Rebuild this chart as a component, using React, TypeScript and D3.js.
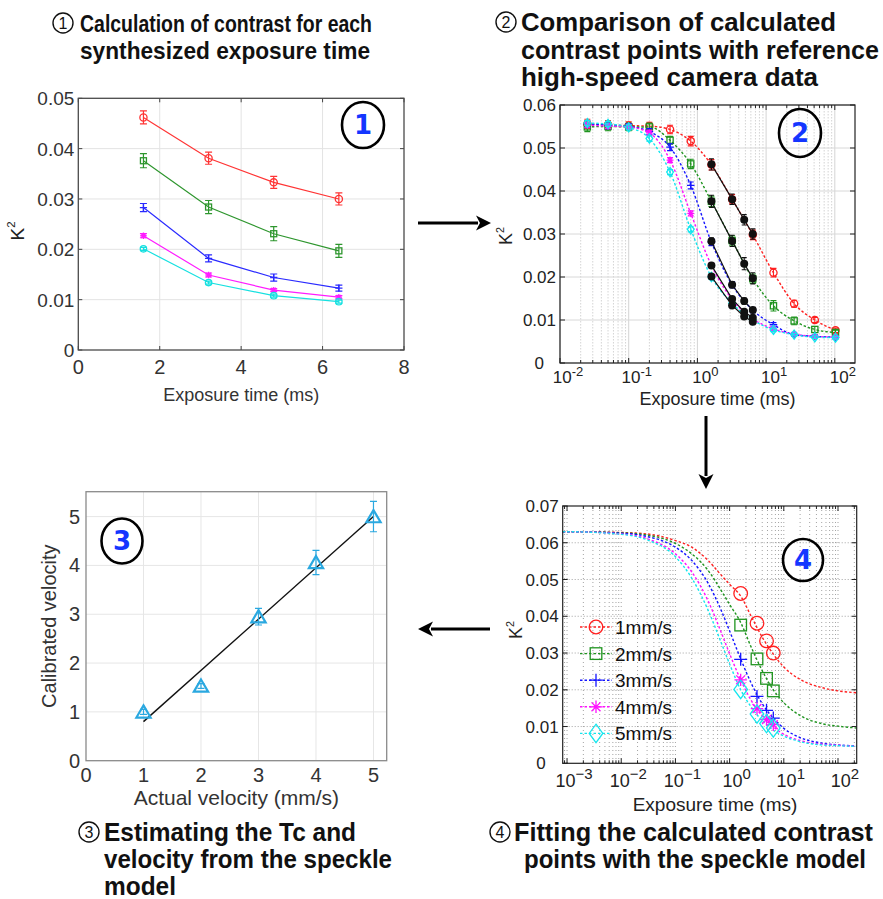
import React from 'react';
import * as d3 from 'd3';

const FONT = "'Liberation Sans', Arial, Helvetica, sans-serif";
const TITLE_FONT = "'Liberation Sans Narrow', 'Liberation Sans', Arial, sans-serif";
const BADGE_FONT = "'DejaVu Sans', Verdana, sans-serif";

// ---------- Panel 1: contrast for each synthesized exposure time ----------
const synthExposure = [1.6, 3.2, 4.8, 6.4];
const k2Speed1 = [0.0462, 0.0381, 0.0333, 0.03];
const k2Speed2 = [0.0376, 0.0284, 0.0231, 0.0197];
const k2Speed3 = [0.0283, 0.0182, 0.0144, 0.0123];
const k2Speed4 = [0.0227, 0.0149, 0.0119, 0.0105];
const k2Speed5 = [0.0201, 0.0134, 0.0108, 0.0096];
const errSpeed1 = [0.0013, 0.0012, 0.0012, 0.0012];
const errSpeed2 = [0.0014, 0.0013, 0.0014, 0.0013];
const errSpeed3 = [0.0008, 0.0007, 0.0007, 0.0006];
const errSpeed4 = [0.0004, 0.0004, 0.0003, 0.0003];
const errSpeed5 = [0.0003, 0.0003, 0.0003, 0.0003];
const p1XTicks = [0, 2, 4, 6, 8];
const p1YTicks = [0, 0.01, 0.02, 0.03, 0.04, 0.05];

// ---------- Panel 2: high-speed camera reference contrast ----------
const hsExposure = [0.025, 0.05, 0.1, 0.2, 0.4, 0.8, 1.6, 3.2, 6.4, 12.8, 25.6, 51.2, 102.4];
const hsSpeed1 = [0.0556, 0.0554, 0.0552, 0.0551, 0.0543, 0.0516, 0.0461, 0.0381, 0.0298, 0.021, 0.0138, 0.01, 0.0076];
const hsSpeed2 = [0.0549, 0.055, 0.0549, 0.0549, 0.0518, 0.0463, 0.0376, 0.0285, 0.0196, 0.0133, 0.0098, 0.0078, 0.0071];
const hsSpeed3 = [0.0556, 0.0553, 0.055, 0.0538, 0.0502, 0.0413, 0.0281, 0.0182, 0.0123, 0.0089, 0.0066, 0.0062, 0.006];
const hsSpeed4 = [0.0553, 0.0551, 0.0549, 0.0535, 0.0472, 0.0348, 0.0227, 0.0148, 0.0103, 0.0079, 0.0067, 0.0062, 0.006];
const hsSpeed5 = [0.0558, 0.0556, 0.0548, 0.0522, 0.0444, 0.0311, 0.02, 0.0139, 0.01, 0.0077, 0.0066, 0.006, 0.0059];
const hsErr1 = [0.0011, 0.001, 0.0009, 0.0009, 0.001, 0.0011, 0.0012, 0.0011, 0.0011, 0.001, 0.0008, 0.0006, 0.0005];
const hsErr2 = [0.0011, 0.001, 0.0009, 0.0009, 0.0009, 0.0011, 0.0012, 0.0011, 0.0011, 0.0012, 0.0009, 0.0007, 0.0005];
const hsErr3 = [0.0008, 0.0008, 0.0007, 0.0007, 0.0008, 0.0008, 0.0008, 0.0007, 0.0006, 0.0005, 0.0004, 0.0004, 0.0004];
const hsErr4 = [0.0006, 0.0006, 0.0006, 0.0006, 0.0006, 0.0006, 0.0005, 0.0004, 0.0004, 0.0004, 0.0003, 0.0003, 0.0003];
const hsErr5 = [0.0006, 0.0006, 0.0006, 0.0006, 0.0006, 0.0006, 0.0005, 0.0004, 0.0004, 0.0004, 0.0003, 0.0003, 0.0003];
const p2YTicks = [0, 0.01, 0.02, 0.03, 0.04, 0.05, 0.06];
const p2Decades = [-2, -1, 0, 1, 2];

// ---------- Panel 3: calibrated vs actual velocity ----------
const actualVelocity = [1, 2, 3, 4, 5];
const calibratedVelocity = [1.0, 1.53, 2.95, 4.06, 5.0];
const calibratedErr = [0.05, 0.05, 0.17, 0.25, 0.31];
const fitVelocityX = [1, 5];
const fitVelocityY = [0.8, 5.0];
const p3XTicks = [0, 1, 2, 3, 4, 5];
const p3YTicks = [0, 1, 2, 3, 4, 5];

// ---------- Panel 4: speckle-model fits ----------
const fitExposure = [0.00083, 0.001, 0.01, 0.03, 0.1, 0.2, 0.4, 0.7, 1, 1.6, 2.5, 4, 6.4, 10, 20, 50, 100, 221];
const fitSpeed1 = [0.063, 0.063, 0.0628, 0.0624, 0.0606, 0.0588, 0.0552, 0.0512, 0.0487, 0.0455, 0.04, 0.0343, 0.0297, 0.0262, 0.0228, 0.0206, 0.0197, 0.0192];
const fitSpeed2 = [0.063, 0.063, 0.0627, 0.0621, 0.0598, 0.057, 0.0525, 0.047, 0.0432, 0.0383, 0.0316, 0.0252, 0.02, 0.0165, 0.013, 0.0108, 0.0101, 0.0096];
const fitSpeed3 = [0.063, 0.063, 0.0626, 0.0617, 0.0588, 0.0552, 0.049, 0.0416, 0.036, 0.0284, 0.0218, 0.0162, 0.0123, 0.0095, 0.007, 0.0055, 0.005, 0.0047];
const fitSpeed4 = [0.063, 0.063, 0.0624, 0.0611, 0.057, 0.0521, 0.0442, 0.0356, 0.0298, 0.0227, 0.0171, 0.0128, 0.0099, 0.0079, 0.0062, 0.0052, 0.0049, 0.0046];
const fitSpeed5 = [0.063, 0.063, 0.0623, 0.0608, 0.0562, 0.0504, 0.0417, 0.0328, 0.027, 0.02, 0.0153, 0.0116, 0.009, 0.0074, 0.0059, 0.005, 0.0048, 0.0046];
const legendLabels = ['1mm/s', '2mm/s', '3mm/s', '4mm/s', '5mm/s'];
const p4YTicks = [0, 0.01, 0.02, 0.03, 0.04, 0.05, 0.06, 0.07];
const p4Decades = [-3, -2, -1, 0, 1, 2];

// ---------- captions ----------
const caption1 = ['Calculation of contrast for each', 'synthesized exposure time'];
const caption2 = ['Comparison of calculated', 'contrast points with reference', 'high-speed camera data'];
const caption3 = ['Estimating the Tc and', 'velocity from the speckle', 'model'];
const caption4 = ['Fitting the calculated contrast', 'points with the speckle model'];

type Shape = 'o' | 's' | '+' | '*' | 'd' | '^' | 'dot';

function Marker({ shape, x, y, s, color, sw = 1 }: { shape: Shape; x: number; y: number; s: number; color: string; sw?: number }) {
  switch (shape) {
    case 'o':
      return <circle cx={x} cy={y} r={s} fill="none" stroke={color} strokeWidth={sw} />;
    case 's':
      return <rect x={x - s} y={y - s} width={2 * s} height={2 * s} fill="none" stroke={color} strokeWidth={sw} />;
    case '+':
      return <path d={`M${x - s},${y}H${x + s}M${x},${y - s}V${y + s}`} stroke={color} strokeWidth={sw} />;
    case '*': {
      const d = s * 0.72;
      return (
        <path
          d={`M${x - s},${y}H${x + s}M${x},${y - s}V${y + s}M${x - d},${y - d}L${x + d},${y + d}M${x - d},${y + d}L${x + d},${y - d}`}
          stroke={color}
          strokeWidth={sw}
        />
      );
    }
    case 'd':
      return <path d={`M${x},${y - s * 1.35}L${x + s},${y}L${x},${y + s * 1.35}L${x - s},${y}Z`} fill="none" stroke={color} strokeWidth={sw} />;
    case '^':
      return <path d={`M${x},${y - s}L${x + s * 0.95},${y + s * 0.62}L${x - s * 0.95},${y + s * 0.62}Z`} fill="none" stroke={color} strokeWidth={sw} />;
    case 'dot':
      return <circle cx={x} cy={y} r={s} fill={color} />;
  }
  return null;
}

function ErrorBar({ x, y0, y1, cap, color, sw = 1 }: { x: number; y0: number; y1: number; cap: number; color: string; sw?: number }) {
  return <path d={`M${x - cap},${y0}H${x + cap}M${x},${y0}V${y1}M${x - cap},${y1}H${x + cap}`} stroke={color} strokeWidth={sw} fill="none" />;
}

function PowLabel({ x, y, exp, size, supSize, minus, rise }: { x: number; y: number; exp: number; size: number; supSize: number; minus: string; rise: number }) {
  const e = exp < 0 ? `${minus}${Math.abs(exp)}` : `${exp}`;
  return (
    <text x={x} y={y} textAnchor="middle" fontFamily={FONT} fontSize={size} fill="#222">
      10
      <tspan dy={-rise} fontSize={supSize}>
        {e}
      </tspan>
    </text>
  );
}

function K2Label({ x, y, size }: { x: number; y: number; size: number }) {
  return (
    <text transform={`translate(${x},${y}) rotate(-90)`} textAnchor="middle" fontFamily={FONT} fontSize={size} fill="#222">
      K
      <tspan dy={-size * 0.45} fontSize={size * 0.6}>
        2
      </tspan>
    </text>
  );
}

function Badge({ cx, cy, rx, ry, label }: { cx: number; cy: number; rx: number; ry: number; label: string }) {
  return (
    <g>
      <ellipse cx={cx} cy={cy} rx={rx} ry={ry} fill="none" stroke="#000" strokeWidth={2.6} />
      <text x={cx} y={cy + 9} textAnchor="middle" fontFamily={BADGE_FONT} fontWeight="bold" fontSize={26} fill="#1436ff">
        {label}
      </text>
    </g>
  );
}

function Caption({ cx, cy, num, lines, lineX, y0, dy, widths, size }: { cx: number; cy: number; num: string; lines: string[]; lineX: number[]; y0: number; dy: number; widths: number[]; size: number }) {
  return (
    <g>
      <circle cx={cx} cy={cy} r={10} fill="none" stroke="#111" strokeWidth={1.4} />
      <text x={cx} y={cy + 6} textAnchor="middle" fontFamily={FONT} fontSize={16} fill="#111">
        {num}
      </text>
      {lines.map((t, i) => (
        <text
          key={i}
          x={lineX[i]}
          y={y0 + i * dy}
          fontFamily={TITLE_FONT}
          fontWeight="bold"
          fontSize={size}
          fill="#111"
          textLength={widths[i]}
          lengthAdjust="spacingAndGlyphs"
        >
          {t}
        </text>
      ))}
    </g>
  );
}

function logTicks(lo: number, hi: number) {
  const out: { v: number; major: boolean }[] = [];
  for (let e = Math.floor(Math.log10(lo)); e <= Math.ceil(Math.log10(hi)); e++) {
    for (let k = 1; k <= 9; k++) {
      const v = k * Math.pow(10, e);
      if (v >= lo * 0.999 && v <= hi * 1.001) out.push({ v, major: k === 1 });
    }
  }
  return out;
}

function Panel1() {
  const p = { l: 78.3, r: 404, t: 98.3, b: 350 };
  const x = d3.scaleLinear().domain([0, 8]).range([p.l, p.r]);
  const y = d3.scaleLinear().domain([0, 0.05]).range([p.b, p.t]);
  const series = [
    { v: k2Speed1, e: errSpeed1, c: '#ff3434', shape: 'o' as Shape, s: 3.6 },
    { v: k2Speed2, e: errSpeed2, c: '#2e962e', shape: 's' as Shape, s: 3.0 },
    { v: k2Speed3, e: errSpeed3, c: '#2a2aff', shape: '+' as Shape, s: 3.6 },
    { v: k2Speed4, e: errSpeed4, c: '#ff1cff', shape: '*' as Shape, s: 3.2 },
    { v: k2Speed5, e: errSpeed5, c: '#16e0e0', shape: 'o' as Shape, s: 3.2 },
  ];
  const line = d3.line<number>().x((_, i) => x(synthExposure[i])).y((d) => y(d));
  return (
    <g>
      <rect x={p.l} y={p.t} width={p.r - p.l} height={p.b - p.t} fill="#fff" />
      {p1XTicks.slice(1, -1).map((t) => (
        <line key={'gx' + t} x1={x(t)} x2={x(t)} y1={p.t} y2={p.b} stroke="#e3e3e3" strokeWidth={1} />
      ))}
      {p1YTicks.slice(1, -1).map((t) => (
        <line key={'gy' + t} x1={p.l} x2={p.r} y1={y(t)} y2={y(t)} stroke="#e3e3e3" strokeWidth={1} />
      ))}
      {p1XTicks.map((t) => (
        <g key={'tx' + t}>
          <line x1={x(t)} x2={x(t)} y1={p.b} y2={p.b - 4} stroke="#444" />
          <line x1={x(t)} x2={x(t)} y1={p.t} y2={p.t + 4} stroke="#444" />
          <text x={x(t)} y={p.b + 24} textAnchor="middle" fontFamily={FONT} fontSize={20} fill="#333">
            {t}
          </text>
        </g>
      ))}
      {p1YTicks.map((t) => (
        <g key={'ty' + t}>
          <line x1={p.l} x2={p.l + 4} y1={y(t)} y2={y(t)} stroke="#444" />
          <line x1={p.r} x2={p.r - 4} y1={y(t)} y2={y(t)} stroke="#444" />
          <text x={p.l - 4} y={y(t) + 7} textAnchor="end" fontFamily={FONT} fontSize={19} fill="#333">
            {t === 0 ? '0' : t.toFixed(2)}
          </text>
        </g>
      ))}
      <rect x={p.l} y={p.t} width={p.r - p.l} height={p.b - p.t} fill="none" stroke="#4a4a4a" strokeWidth={1.3} />
      {series.map((s, si) => (
        <g key={'s' + si}>
          <path d={line(s.v) || ''} fill="none" stroke={s.c} strokeWidth={1.2} />
          {s.v.map((v, i) => (
            <g key={i}>
              <ErrorBar x={x(synthExposure[i])} y0={y(v - s.e[i])} y1={y(v + s.e[i])} cap={3.5} color={s.c} sw={1.2} />
              <Marker shape={s.shape} x={x(synthExposure[i])} y={y(v)} s={s.s} color={s.c} sw={1.3} />
            </g>
          ))}
        </g>
      ))}
      <Badge cx={363} cy={125} rx={21} ry={23} label="1" />
      <K2Label x={24} y={231} size={19} />
      <text x={(p.l + p.r) / 2} y={401} textAnchor="middle" fontFamily={FONT} fontSize={18} fill="#333">
        Exposure time (ms)
      </text>
    </g>
  );
}

function Panel2() {
  const p = { l: 560, r: 855, t: 105, b: 363 };
  const x = d3.scaleLog().domain([0.01, Math.pow(10, 2.294)]).range([p.l, p.r]);
  const y = d3.scaleLinear().domain([0, 0.06]).range([p.b, p.t]);
  const ticks = logTicks(0.01, Math.pow(10, 2.294));
  const series = [
    { v: hsSpeed1, e: hsErr1, k: k2Speed1, ke: errSpeed1, c: '#ff1f1f', shape: 'o' as Shape, s: 3.6 },
    { v: hsSpeed2, e: hsErr2, k: k2Speed2, ke: errSpeed2, c: '#1f941f', shape: 's' as Shape, s: 3.1 },
    { v: hsSpeed3, e: hsErr3, k: k2Speed3, ke: errSpeed3, c: '#1414ff', shape: '+' as Shape, s: 3.8 },
    { v: hsSpeed4, e: hsErr4, k: k2Speed4, ke: errSpeed4, c: '#ff10ff', shape: '*' as Shape, s: 3.4 },
    { v: hsSpeed5, e: hsErr5, k: k2Speed5, ke: errSpeed5, c: '#12e6ee', shape: 'd' as Shape, s: 3.4 },
  ];
  const line = d3
    .line<number>()
    .x((_, i) => x(hsExposure[i]))
    .y((d) => y(d))
    .curve(d3.curveMonotoneX);
  const blackLine = d3.line<number>().x((_, i) => x(synthExposure[i])).y((d) => y(d));
  return (
    <g>
      <rect x={p.l} y={p.t} width={p.r - p.l} height={p.b - p.t} fill="#fff" />
      {ticks.map((t, i) => (
        <line
          key={'gx' + i}
          x1={x(t.v)}
          x2={x(t.v)}
          y1={p.t}
          y2={p.b}
          stroke={t.major ? '#d4d4d4' : '#cfcfcf'}
          strokeWidth={t.major ? 1 : 0.9}
          strokeDasharray={t.major ? undefined : '1.5,1.5'}
        />
      ))}
      {p2YTicks.map((t) => (
        <line key={'gy' + t} x1={p.l} x2={p.r} y1={y(t)} y2={y(t)} stroke="#d8d8d8" strokeWidth={1} />
      ))}
      {ticks.map((t, i) => (
        <g key={'tk' + i}>
          <line x1={x(t.v)} x2={x(t.v)} y1={p.b} y2={p.b - (t.major ? 5 : 3)} stroke="#222" />
          <line x1={x(t.v)} x2={x(t.v)} y1={p.t} y2={p.t + (t.major ? 5 : 3)} stroke="#222" />
        </g>
      ))}
      {p2YTicks.map((t) => (
        <g key={'ty' + t}>
          <line x1={p.l} x2={p.l + 5} y1={y(t)} y2={y(t)} stroke="#222" />
          <line x1={p.r} x2={p.r - 5} y1={y(t)} y2={y(t)} stroke="#222" />
          <text x={t === 0 ? p.l - 16 : p.l - 4} y={y(t) + 6} textAnchor="end" fontFamily={FONT} fontSize={17} fill="#222">
            {t === 0 ? '0' : t.toFixed(2)}
          </text>
        </g>
      ))}
      {p2Decades.map((e) => (
        <PowLabel key={'px' + e} x={x(Math.pow(10, e)) + 8} y={p.b + 20} exp={e} size={17} supSize={13} minus="-" rise={7} />
      ))}
      {series.map((s, si) => (
        <g key={'c' + si}>
          <path d={line(s.v) || ''} fill="none" stroke={s.c} strokeWidth={1.4} strokeDasharray="2.5,2" />
          {s.v.map((v, i) => (
            <g key={i}>
              <ErrorBar x={x(hsExposure[i])} y0={y(v - s.e[i])} y1={y(v + s.e[i])} cap={3} color={s.c} sw={1.1} />
              <Marker shape={s.shape} x={x(hsExposure[i])} y={y(v)} s={s.s} color={s.c} sw={1.3} />
            </g>
          ))}
        </g>
      ))}
      {series.map((s, si) => (
        <g key={'k' + si}>
          <path d={blackLine(s.k) || ''} fill="none" stroke="#111" strokeWidth={1.2} />
          {s.k.map((v, i) => (
            <g key={i}>
              <ErrorBar x={x(synthExposure[i])} y0={y(v - s.ke[i])} y1={y(v + s.ke[i])} cap={2.5} color="#111" sw={1.1} />
              <Marker shape="dot" x={x(synthExposure[i])} y={y(v)} s={4} color="#111" />
            </g>
          ))}
        </g>
      ))}
      <rect x={p.l} y={p.t} width={p.r - p.l} height={p.b - p.t} fill="none" stroke="#222" strokeWidth={1.2} />
      <Badge cx={800} cy={133} rx={21} ry={24} label="2" />
      <K2Label x={512} y={236} size={18} />
      <text x={(p.l + p.r) / 2 + 10} y={405} textAnchor="middle" fontFamily={FONT} fontSize={18} fill="#222">
        Exposure time (ms)
      </text>
    </g>
  );
}

function Panel3() {
  const p = { l: 86, r: 386.7, t: 491.7, b: 760.7 };
  const x = d3.scaleLinear().domain([0, 5.23]).range([p.l, p.r]);
  const y = d3.scaleLinear().domain([0, 5.51]).range([p.b, p.t]);
  const fit = d3.line<number>().x((_, i) => x(fitVelocityX[i])).y((d) => y(d));
  const c = '#2aa8e0';
  return (
    <g>
      <rect x={p.l} y={p.t} width={p.r - p.l} height={p.b - p.t} fill="#fff" />
      {p3XTicks.slice(1).map((t) => (
        <line key={'gx' + t} x1={x(t)} x2={x(t)} y1={p.t} y2={p.b} stroke="#e6e6e6" />
      ))}
      {p3YTicks.slice(1).map((t) => (
        <line key={'gy' + t} x1={p.l} x2={p.r} y1={y(t)} y2={y(t)} stroke="#e6e6e6" />
      ))}
      {p3XTicks.map((t) => (
        <text key={'tx' + t} x={x(t)} y={782} textAnchor="middle" fontFamily={FONT} fontSize={20} fill="#333">
          {t}
        </text>
      ))}
      {p3YTicks.map((t) => (
        <text key={'ty' + t} x={p.l - 6} y={y(t) + 7} textAnchor="end" fontFamily={FONT} fontSize={20} fill="#333">
          {t}
        </text>
      ))}
      <rect x={p.l} y={p.t} width={p.r - p.l} height={p.b - p.t} fill="none" stroke="#8a8a8a" strokeWidth={1.3} />
      <path d={fit(fitVelocityY) || ''} fill="none" stroke="#111" strokeWidth={1.4} />
      {actualVelocity.map((v, i) => (
        <g key={i}>
          <ErrorBar x={x(v)} y0={y(calibratedVelocity[i] - calibratedErr[i])} y1={y(calibratedVelocity[i] + calibratedErr[i])} cap={3.5} color={c} sw={1.2} />
          <Marker shape="^" x={x(v)} y={y(calibratedVelocity[i]) + 1} s={7.5} color={c} sw={2.2} />
        </g>
      ))}
      <Badge cx={122} cy={541} rx={20.5} ry={22.5} label="3" />
      <text transform={`translate(56,${(p.t + p.b) / 2}) rotate(-90)`} textAnchor="middle" fontFamily={FONT} fontSize={20} fill="#333">
        Calibrated velocity
      </text>
      <text x={(p.l + p.r) / 2} y={805} textAnchor="middle" fontFamily={FONT} fontSize={21} fill="#333">
        Actual velocity (mm/s)
      </text>
    </g>
  );
}

function Panel4() {
  const p = { l: 562.7, r: 856.7, t: 506, b: 763.3 };
  const lo = Math.pow(10, -3.08);
  const hi = Math.pow(10, 2.345);
  const x = d3.scaleLog().domain([lo, hi]).range([p.l, p.r]);
  const y = d3.scaleLinear().domain([0, 0.07]).range([p.b, p.t]);
  const ticks = logTicks(lo, hi);
  const series = [
    { f: fitSpeed1, k: k2Speed1, c: '#ff2020', shape: 'o' as Shape, s: 6.8 },
    { f: fitSpeed2, k: k2Speed2, c: '#1f941f', shape: 's' as Shape, s: 5.8 },
    { f: fitSpeed3, k: k2Speed3, c: '#1414ff', shape: '+' as Shape, s: 6.5 },
    { f: fitSpeed4, k: k2Speed4, c: '#ff10ff', shape: '*' as Shape, s: 6.2 },
    { f: fitSpeed5, k: k2Speed5, c: '#14e6ee', shape: 'd' as Shape, s: 6.8 },
  ];
  const curve = d3
    .line<number>()
    .x((_, i) => x(fitExposure[i]))
    .y((d) => y(d))
    .curve(d3.curveMonotoneX);
  return (
    <g>
      <rect x={p.l} y={p.t} width={p.r - p.l} height={p.b - p.t} fill="#fff" />
      {ticks.map((t, i) => (
        <line key={'gx' + i} x1={x(t.v)} x2={x(t.v)} y1={p.t} y2={p.b} stroke="#8c8c8c" strokeWidth={0.8} strokeDasharray="1,3" />
      ))}
      {p4YTicks.slice(1, -1).map((t) => (
        <line key={'gy' + t} x1={p.l} x2={p.r} y1={y(t)} y2={y(t)} stroke="#8c8c8c" strokeWidth={0.8} strokeDasharray="1,2" />
      ))}
      {ticks.map((t, i) => (
        <g key={'tk' + i}>
          <line x1={x(t.v)} x2={x(t.v)} y1={p.b} y2={p.b - (t.major ? 5 : 3)} stroke="#222" />
          <line x1={x(t.v)} x2={x(t.v)} y1={p.t} y2={p.t + (t.major ? 5 : 3)} stroke="#222" />
        </g>
      ))}
      {p4YTicks.map((t) => (
        <g key={'ty' + t}>
          <line x1={p.l} x2={p.l + 5} y1={y(t)} y2={y(t)} stroke="#222" />
          <line x1={p.r} x2={p.r - 5} y1={y(t)} y2={y(t)} stroke="#222" />
          <text x={t === 0 ? p.l - 17 : p.l - 4} y={y(t) + 6} textAnchor="end" fontFamily={FONT} fontSize={17} fill="#222">
            {t === 0 ? '0' : t.toFixed(2)}
          </text>
        </g>
      ))}
      {p4Decades.map((e) => (
        <PowLabel key={'px' + e} x={x(Math.pow(10, e)) + 7} y={p.b + 24} exp={e} size={18} supSize={15} minus={'\u2212'} rise={8} />
      ))}
      {series.map((s, si) => (
        <path key={'f' + si} d={curve(s.f) || ''} fill="none" stroke={s.c} strokeWidth={1.4} strokeDasharray="2.5,2" />
      ))}
      {series.map((s, si) => (
        <g key={'m' + si}>
          {s.k.map((v, i) => (
            <Marker key={i} shape={s.shape} x={x(synthExposure[i])} y={y(v)} s={s.s} color={s.c} sw={1.3} />
          ))}
        </g>
      ))}
      {series.map((s, si) => {
        const ly = 627 + si * 26.6;
        return (
          <g key={'lg' + si}>
            <line x1={580} x2={612} y1={ly} y2={ly} stroke={s.c} strokeWidth={1.4} strokeDasharray="2.5,2" />
            <Marker shape={s.shape} x={596} y={ly} s={s.s} color={s.c} sw={1.3} />
            <text x={615} y={ly + 7} fontFamily={FONT} fontSize={19} fill="#111">
              {legendLabels[si]}
            </text>
          </g>
        );
      })}
      <rect x={p.l} y={p.t} width={p.r - p.l} height={p.b - p.t} fill="none" stroke="#222" strokeWidth={1.2} />
      <Badge cx={803} cy={560} rx={20} ry={21} label="4" />
      <K2Label x={522} y={630} size={18} />
      <text x={715} y={811} textAnchor="middle" fontFamily={FONT} fontSize={19} fill="#222">
        Exposure time (ms)
      </text>
    </g>
  );
}

function Arrow({ x1, y1, x2, y2 }: { x1: number; y1: number; x2: number; y2: number }) {
  const ang = Math.atan2(y2 - y1, x2 - x1);
  const hl = 15;
  const hw = 7.5;
  const bx = x2 - hl * Math.cos(ang);
  const by = y2 - hl * Math.sin(ang);
  const px = -Math.sin(ang) * hw;
  const py = Math.cos(ang) * hw;
  return (
    <g>
      <line x1={x1} y1={y1} x2={bx + 2 * Math.cos(ang)} y2={by + 2 * Math.sin(ang)} stroke="#000" strokeWidth={3} />
      <path d={`M${x2},${y2}L${bx + px},${by + py}L${bx + 4 * Math.cos(ang)},${by + 4 * Math.sin(ang)}L${bx - px},${by - py}Z`} fill="#000" />
    </g>
  );
}

export default function App() {
  return (
    <svg width={883} height={899} viewBox="0 0 883 899" style={{ position: 'absolute', left: 0, top: 0, background: '#fff' }}>
      <rect x={0} y={0} width={883} height={899} fill="#fff" />
      <Caption cx={63} cy={23} num="1" lines={caption1} lineX={[80, 80]} y0={32} dy={27} widths={[292, 290]} size={24} />
      <Caption cx={506} cy={22} num="2" lines={caption2} lineX={[521, 521, 521]} y0={31} dy={27.5} widths={[315, 358, 297]} size={25} />
      <Caption cx={89} cy={832} num="3" lines={caption3} lineX={[104, 104, 104]} y0={841} dy={27} widths={[252, 288, 72]} size={25} />
      <Caption cx={500} cy={832} num="4" lines={caption4} lineX={[514, 524]} y0={841} dy={27} widths={[359, 342]} size={25} />
      <Panel1 />
      <Panel2 />
      <Panel3 />
      <Panel4 />
      <Arrow x1={418} y1={223} x2={491} y2={223} />
      <Arrow x1={706} y1={416} x2={706} y2={489} />
      <Arrow x1={490} y1={629} x2={418} y2={629} />
    </svg>
  );
}
